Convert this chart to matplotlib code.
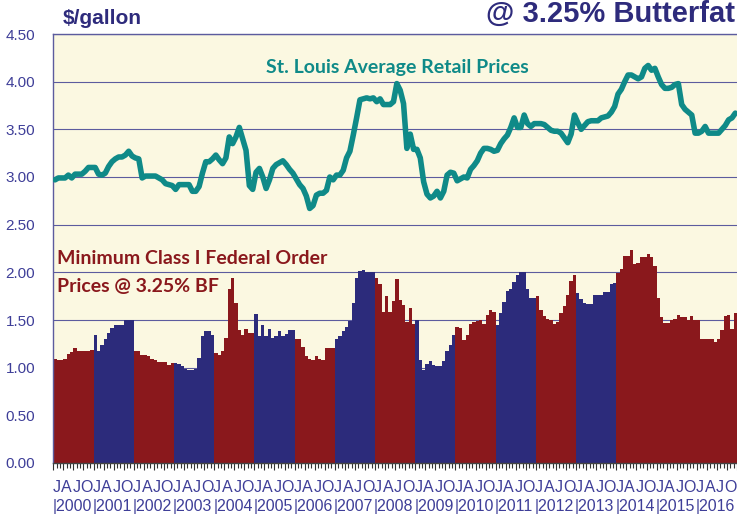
import matplotlib
matplotlib.use("Agg")
import matplotlib.pyplot as plt
import matplotlib.transforms as mtransforms
import numpy as np

years = [2000, 2001, 2002, 2003, 2004, 2005, 2006, 2007, 2008,
         2009, 2010, 2011, 2012, 2013, 2014, 2015, 2016]
quarter_letters = ["J", "A", "J", "O"]
y_ticks = [0.0, 0.5, 1.0, 1.5, 2.0, 2.5, 3.0, 3.5, 4.0, 4.5]

# Minimum Class I Federal Order prices @ 3.25% BF ($/gallon), monthly
class1_2000 = [1.09, 1.08, 1.08, 1.09, 1.14, 1.16, 1.21, 1.18, 1.17, 1.18, 1.17, 1.19]
class1_2001 = [1.34, 1.18, 1.24, 1.30, 1.36, 1.42, 1.45, 1.45, 1.45, 1.50, 1.50, 1.50]
class1_2002 = [1.18, 1.18, 1.13, 1.13, 1.12, 1.09, 1.08, 1.06, 1.06, 1.06, 1.03, 1.05]
class1_2003 = [1.05, 1.04, 1.02, 0.99, 0.98, 0.98, 0.99, 1.10, 1.33, 1.38, 1.38, 1.34]
class1_2004 = [1.15, 1.13, 1.17, 1.31, 1.82, 1.94, 1.68, 1.40, 1.34, 1.41, 1.36, 1.36]
class1_2005 = [1.56, 1.33, 1.45, 1.33, 1.41, 1.31, 1.33, 1.38, 1.33, 1.35, 1.40, 1.40]
class1_2006 = [1.30, 1.30, 1.22, 1.12, 1.09, 1.08, 1.12, 1.09, 1.08, 1.21, 1.21, 1.21]
class1_2007 = [1.30, 1.33, 1.38, 1.43, 1.49, 1.68, 1.94, 2.01, 2.02, 2.00, 2.00, 2.00]
class1_2008 = [1.94, 1.88, 1.58, 1.75, 1.58, 1.70, 1.93, 1.71, 1.66, 1.48, 1.63, 1.46]
class1_2009 = [1.50, 1.08, 0.98, 1.04, 1.07, 1.03, 1.02, 1.02, 1.07, 1.18, 1.24, 1.34]
class1_2010 = [1.43, 1.42, 1.29, 1.34, 1.46, 1.48, 1.49, 1.50, 1.46, 1.55, 1.60, 1.58]
class1_2011 = [1.45, 1.57, 1.69, 1.80, 1.83, 1.90, 1.97, 2.00, 2.00, 1.82, 1.73, 1.73]
class1_2012 = [1.75, 1.60, 1.54, 1.51, 1.50, 1.46, 1.48, 1.57, 1.65, 1.76, 1.91, 1.97]
class1_2013 = [1.78, 1.72, 1.68, 1.67, 1.67, 1.76, 1.76, 1.76, 1.79, 1.79, 1.88, 1.89]
class1_2014 = [1.99, 2.03, 2.17, 2.17, 2.23, 2.09, 2.10, 2.16, 2.16, 2.19, 2.16, 2.07]
class1_2015 = [1.73, 1.53, 1.47, 1.47, 1.50, 1.51, 1.55, 1.53, 1.53, 1.50, 1.54, 1.50]
class1_2016 = [1.50, 1.30, 1.30, 1.30, 1.30, 1.27, 1.30, 1.40, 1.54, 1.55, 1.41, 1.57]

# St. Louis average retail prices ($/gallon), monthly
retail_2000 = [2.97, 2.99, 2.99, 2.99, 3.02, 2.99, 3.03, 3.03, 3.03, 3.06, 3.10, 3.10]
retail_2001 = [3.10, 3.03, 3.02, 3.04, 3.11, 3.16, 3.19, 3.21, 3.21, 3.23, 3.27, 3.22]
retail_2002 = [3.20, 3.19, 2.99, 3.01, 3.01, 3.01, 3.01, 2.99, 2.97, 2.93, 2.92, 2.91]
retail_2003 = [2.87, 2.92, 2.92, 2.92, 2.92, 2.85, 2.85, 2.90, 3.04, 3.16, 3.16, 3.19]
retail_2004 = [3.23, 3.18, 3.14, 3.20, 3.42, 3.35, 3.42, 3.52, 3.40, 3.28, 2.91, 2.87]
retail_2005 = [3.05, 3.09, 3.00, 2.88, 2.97, 3.09, 3.13, 3.15, 3.17, 3.13, 3.08, 3.04]
retail_2006 = [2.98, 2.92, 2.88, 2.80, 2.67, 2.70, 2.81, 2.83, 2.83, 2.86, 3.00, 2.97]
retail_2007 = [3.02, 3.02, 3.07, 3.20, 3.27, 3.44, 3.62, 3.81, 3.82, 3.83, 3.82, 3.83]
retail_2008 = [3.79, 3.82, 3.76, 3.76, 3.76, 3.79, 3.98, 3.91, 3.77, 3.30, 3.45, 3.29]
retail_2009 = [3.29, 3.20, 2.95, 2.82, 2.78, 2.80, 2.85, 2.78, 2.85, 3.02, 3.05, 3.04]
retail_2010 = [2.96, 2.98, 3.00, 2.99, 3.08, 3.12, 3.17, 3.25, 3.30, 3.30, 3.29, 3.27]
retail_2011 = [3.28, 3.35, 3.40, 3.44, 3.52, 3.62, 3.52, 3.52, 3.65, 3.56, 3.53, 3.56]
retail_2012 = [3.56, 3.56, 3.55, 3.52, 3.49, 3.48, 3.48, 3.46, 3.41, 3.36, 3.45, 3.65]
retail_2013 = [3.57, 3.50, 3.54, 3.58, 3.59, 3.59, 3.59, 3.62, 3.63, 3.64, 3.68, 3.74]
retail_2014 = [3.87, 3.92, 4.00, 4.07, 4.07, 4.05, 4.03, 4.05, 4.14, 4.17, 4.12, 4.14]
retail_2015 = [4.05, 3.97, 3.93, 3.93, 3.94, 3.97, 3.98, 3.76, 3.71, 3.68, 3.65, 3.46]
retail_2016 = [3.46, 3.48, 3.53, 3.46, 3.46, 3.46, 3.46, 3.50, 3.54, 3.60, 3.62, 3.67]

class1_by_year = [class1_2000, class1_2001, class1_2002, class1_2003, class1_2004,
                  class1_2005, class1_2006, class1_2007, class1_2008, class1_2009,
                  class1_2010, class1_2011, class1_2012, class1_2013, class1_2014,
                  class1_2015, class1_2016]
retail_by_year = [retail_2000, retail_2001, retail_2002, retail_2003, retail_2004,
                  retail_2005, retail_2006, retail_2007, retail_2008, retail_2009,
                  retail_2010, retail_2011, retail_2012, retail_2013, retail_2014,
                  retail_2015, retail_2016]

RED = "#8A181C"
BLUE = "#2C2B7B"
TEAL = "#0F8A88"
NAVY = "#2E2B7C"
LABEL = "#3E3E98"
CREAM = "#FBF8E1"
GRID = "#5C5C9E"

W, H = 737, 514
fig = plt.figure(figsize=(W / 100, H / 100), dpi=100)
fig.patch.set_facecolor("white")

left_px, right_px, top_px, bot_px = 53.3, 737.0, 34.0, 463.0
ax = fig.add_axes([left_px / W, 1 - bot_px / H, (right_px - left_px) / W, (bot_px - top_px) / H])
ax.set_facecolor(CREAM)

# bars
for yi, (yr, vals) in enumerate(zip(years, class1_by_year)):
    color = BLUE if (yr % 2 == 1 and yr < 2014) else RED
    xs = np.arange(12) + yi * 12 + 0.5
    ax.bar(xs, vals, width=1.0, color=color, edgecolor="none", linewidth=0, zorder=2)

# retail line
retail = np.concatenate(retail_by_year)
xm = np.arange(len(retail)) + 0.5
ax.plot(xm, retail, color=TEAL, lw=4.0, solid_joinstyle="round", solid_capstyle="round", zorder=3)

n_months = 12 * len(years)
ax.set_xlim(0, n_months)
ax.set_ylim(0, 4.5)

ax.set_yticks(y_ticks)
ax.set_yticklabels([f"{v:.2f}" for v in y_ticks], fontsize=11, color=LABEL,
                   fontfamily="Liberation Sans")
ax.tick_params(axis="y", length=0, pad=13)
ax.yaxis.grid(True, color=GRID, lw=0.8)
ax.set_axisbelow(True)

# x ticks: monthly minor, quarterly major
ax.set_xticks(np.arange(0, n_months + 1, 3))
ax.set_xticks(np.arange(0, n_months + 1, 1), minor=True)
ax.tick_params(axis="x", which="major", length=5, width=0.8, color="#333333", labelbottom=False)
ax.tick_params(axis="x", which="minor", length=3.5, width=0.8, color="#333333")

for s in ["left", "top", "bottom"]:
    ax.spines[s].set_color(GRID)
    ax.spines[s].set_linewidth(1.0)
ax.spines["bottom"].set_color("#444444")
ax.spines["right"].set_visible(False)

trans = mtransforms.blended_transform_factory(ax.transData, fig.transFigure)
for yi, yr in enumerate(years):
    for q, letter in enumerate(quarter_letters):
        ax.text(yi * 12 + q * 3 + 0.9, 1 - 488 / H, letter, transform=trans,
                ha="center", va="center", fontsize=11.5, color=LABEL,
                fontfamily="Liberation Sans")
    ax.text(yi * 12 - 0.3, 1 - 506 / H, "|" + str(yr), transform=trans,
            ha="left", va="center", fontsize=11.5, color=LABEL,
            fontfamily="Liberation Sans")

fig.text(63 / W, 1 - 19 / H, "$/gallon", fontsize=15, fontweight="bold", color=NAVY,
         fontfamily="Liberation Sans", ha="left", va="center")
fig.text(735 / W, 1 - 14 / H, "@ 3.25% Butterfat", fontsize=21, fontweight="bold",
         color=NAVY, fontfamily="Liberation Sans", ha="right", va="center")

fig.text(397 / W, 1 - 68 / H, "St. Louis Average Retail Prices", fontsize=14,
         fontweight="bold", color=TEAL, fontfamily="Lato", ha="center", va="center")
fig.text(57 / W, 1 - 259 / H, "Minimum Class I Federal Order", fontsize=14,
         fontweight="bold", color=RED, fontfamily="Lato", ha="left", va="center")
fig.text(57 / W, 1 - 286 / H, "Prices @ 3.25% BF", fontsize=14,
         fontweight="bold", color=RED, fontfamily="Lato", ha="left", va="center")

fig.savefig("out.png", dpi=100, facecolor="white")
